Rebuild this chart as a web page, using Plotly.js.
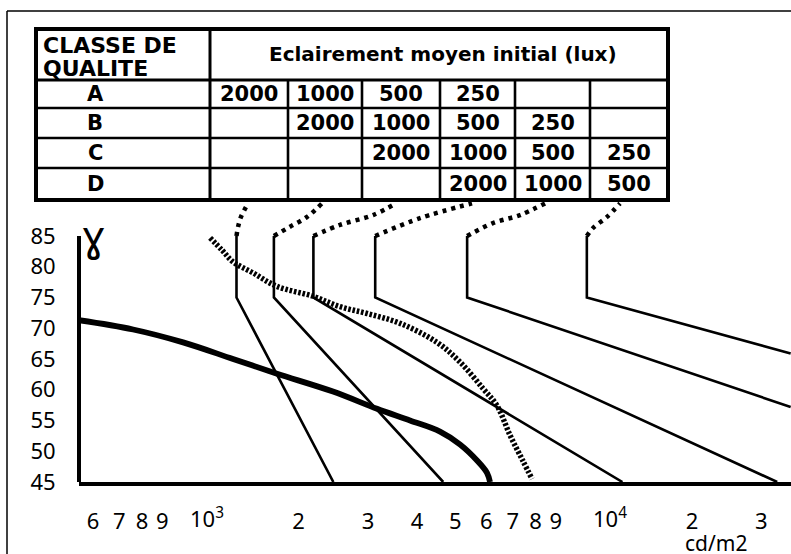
<!DOCTYPE html>
<html>
<head>
<meta charset="utf-8">
<script src="https://cdn.plot.ly/plotly-3.0.1.min.js"></script>
<style>html,body{margin:0;padding:0;background:#fff;}#chart{width:791px;height:554px;}</style>
</head>
<body>
<div id="chart"></div>
<script>
// ---------- data (luminance in cd/m2, angle gamma in degrees) ----------
const classes = ['A', 'B', 'C', 'D'];
const rowA = [2000, 1000, 500, 250, null, null];
const rowB = [null, 2000, 1000, 500, 250, null];
const rowC = [null, null, 2000, 1000, 500, 250];
const rowD = [null, null, null, 2000, 1000, 500];
const tableHeader = 'Eclairement moyen initial (lux)';
const classHeader = ['CLASSE DE', 'QUALITE'];

// luminance limit curves: vertical part 85 -> 75 deg, then straight to end
const curveVertL = [1390, 1730, 2180, 3130, 5360, 10800];
const curveEndL = [2450, 4660, 13300, 32900, 35600, 35600];
const curveEndG = [45, 45, 45, 45, 57.2, 65.9];
const curveTopG = [85, 85, 85, 85, 85, 85];
const curveKneeG = [75, 75, 75, 75, 75, 75];

// dotted lead lines from each curve top up to the table
const lead1L = [1390, 1403, 1427, 1487];   const lead1G = [85, 86.5, 88.1, 90.3];
const lead2L = [1730, 1901, 2101, 2293];   const lead2G = [85, 86.5, 88.1, 90.3];
const lead3L = [2180, 2548, 3090, 3536];   const lead3G = [85, 86.8, 88.4, 90.3];
const lead4L = [3130, 4068, 5515];         const lead4G = [85, 87.9, 90.3];
const lead5L = [5360, 6237, 7304, 8456];   const lead5G = [85, 87.1, 88.4, 90.3];
const lead6L = [10800, 11197, 12152, 13115]; const lead6G = [85, 86.3, 88.1, 90.3];

// thick curve
const thickL = [553, 759, 1017, 1362, 1762, 2445, 3164, 3837, 4574, 5142, 5680, 6021, 6128];
const thickG = [71.3, 69.8, 67.7, 65.0, 62.6, 59.7, 56.9, 55.0, 53.2, 51.1, 48.5, 46.5, 45];

// hatched dotted curve
const hashL = [1191, 1277, 1362, 1531, 1762, 2175, 2548, 2984, 3619, 4494, 5142, 5882, 6385, 6891, 7433, 7838];
const hashG = [84.7, 82.7, 80.8, 79.0, 76.8, 75.2, 73.5, 72.4, 70.8, 67.7, 64.5, 60.2, 57.4, 52.6, 48.4, 45.5];

// axis ticks
const xTickVals = [600, 700, 800, 900, 1000, 2000, 3000, 4000, 5000, 6000, 7000, 8000, 9000, 10000, 20000, 30000, 40000];
const xTickText = ['6', '7', '8', '9', '', '2', '3', '4', '5', '6', '7', '8', '9', '', '2', '3', '4'];
const decadeVals = [1000, 10000];
const decadeText = ['10<sup>3</sup>', '10<sup>4</sup>'];
const yTickVals = [45, 50, 55, 60, 65, 70, 75, 80, 85];
const xRange = [553, 35670];
const yRange = [45, 90.85];
const unitText = 'cd/m2';

// ---------- layout helpers ----------
const W = 791, H = 554, ML = 79, MR = 0, MT = 200, MB = 72;
const PW = W - ML - MR, PH = H - MT - MB;
const px = p => (p - ML) / PW;
const py = p => (H - MB - p) / PH;

const traces = [];
const leads = [[lead1L, lead1G], [lead2L, lead2G], [lead3L, lead3G], [lead4L, lead4G], [lead5L, lead5G], [lead6L, lead6G]];
leads.forEach(([lx, ly]) => {
  traces.push({x: lx, y: ly, mode: 'lines', line: {color: '#000', width: 4.5, dash: '4px,5px', shape: 'spline'}, hoverinfo: 'skip'});
});
curveVertL.forEach((v, i) => {
  traces.push({x: [v, v, curveEndL[i]], y: [curveTopG[i], curveKneeG[i], curveEndG[i]], mode: 'lines',
    line: {color: '#000', width: 2.6}, hoverinfo: 'skip'});
});
traces.push({x: hashL, y: hashG, mode: 'lines', line: {color: '#000', width: 5.5, dash: '2.6px,1.8px', shape: 'spline'}, hoverinfo: 'skip'});
traces.push({x: thickL, y: thickG, mode: 'lines', line: {color: '#000', width: 5.8, shape: 'spline'}, hoverinfo: 'skip'});

// ---------- table (shapes + annotations) ----------
const tblL = 36, tblR = 668, tblT = 29, tblB = 200, colSep = 210, hdrB = 80;
const rowLines = [108, 138, 168];
const subCols = [210, 288, 362, 440, 515, 590, 668];
const rowCenters = [94, 123, 153, 184];
const shapes = [];
const ln = (x0, y0, x1, y1, w) => shapes.push({type: 'line', xref: 'paper', yref: 'paper',
  x0: px(x0), y0: py(y0), x1: px(x1), y1: py(y1), line: {color: '#000', width: w}});
// outer frame of figure
ln(7, 11, 795, 11, 1.5);
ln(7, 11, 7, 560, 1.5);
// table
shapes.push({type: 'rect', xref: 'paper', yref: 'paper', x0: px(tblL), x1: px(tblR), y0: py(tblT), y1: py(tblB),
  line: {color: '#000', width: 4}, fillcolor: 'rgba(0,0,0,0)'});
ln(tblL, hdrB, tblR, hdrB, 3);
rowLines.forEach(y => ln(tblL, y, tblR, y, 2.6));
ln(colSep, tblT, colSep, tblB, 3);
subCols.slice(1, -1).forEach(x => ln(x, hdrB, x, tblB, 2.6));
// y axis line from 45 to 85
shapes.push({type: 'line', xref: 'paper', yref: 'y', x0: 0, x1: 0, y0: 44.6, y1: 85, line: {color: '#000', width: 4}});

const annotations = [];
const ann = (text, x, y, size, opts) => annotations.push(Object.assign({text, xref: 'paper', yref: 'paper',
  x: px(x), y: py(y), showarrow: false, xanchor: 'center', yanchor: 'middle',
  font: {family: 'DejaVu Sans', size, color: '#000', weight: 'bold'}}, opts || {}));
ann(classHeader[0], 41, 45, 22, {xanchor: 'left'});
ann(classHeader[1], 41, 68, 22, {xanchor: 'left'});
ann(tableHeader, 443, 54, 20);
const rows = [rowA, rowB, rowC, rowD];
classes.forEach((c, r) => {
  ann(c, 95, rowCenters[r], 21);
  rows[r].forEach((v, k) => {
    if (v !== null) ann(String(v), (subCols[k] + subCols[k + 1]) / 2, rowCenters[r], 21);
  });
});
// decade tick labels (typeset to the right of their tick, as in the original print)
const decadeShift = [27, 36];
decadeVals.forEach((v, i) => {
  annotations.push({text: decadeText[i], xref: 'x', yref: 'paper', x: Math.log10(v), y: py(517), xshift: decadeShift[i],
    showarrow: false, xanchor: 'center', yanchor: 'middle', font: {family: 'Noto Sans', size: 22, color: '#000'}});
});
// gamma symbol and unit
annotations.push({text: '\u0263', xref: 'paper', yref: 'paper', x: px(93), y: py(236), showarrow: false,
  xanchor: 'center', yanchor: 'middle', font: {family: 'DejaVu Sans', size: 42, color: '#000'}});
annotations.push({text: unitText, xref: 'paper', yref: 'paper', x: px(716), y: py(543), showarrow: false,
  xanchor: 'center', yanchor: 'middle', font: {family: 'Noto Sans', size: 21, color: '#000'}});

const layout = {
  width: W, height: H,
  margin: {l: ML, r: MR, t: MT, b: MB, pad: 0},
  paper_bgcolor: '#fff', plot_bgcolor: '#fff',
  showlegend: false,
  xaxis: {type: 'log', range: xRange.map(Math.log10), showgrid: false, zeroline: false,
    showline: true, linewidth: 4, linecolor: '#000', automargin: false,
    tickmode: 'array', tickvals: xTickVals, ticktext: xTickText, tickangle: 0,
    ticks: 'outside', ticklen: 17, tickcolor: 'rgba(0,0,0,0)',
    tickfont: {family: 'Noto Sans', size: 22, color: '#000'}, fixedrange: true},
  yaxis: {range: yRange, showgrid: false, zeroline: false, showline: false, automargin: false,
    tickmode: 'array', tickvals: yTickVals, ticks: 'outside', ticklen: 18, tickcolor: 'rgba(0,0,0,0)',
    tickfont: {family: 'Noto Sans', size: 22, color: '#000'}, fixedrange: true},
  shapes, annotations
};
Plotly.newPlot('chart', traces, layout, {staticPlot: true, displayModeBar: false});
</script>
</body>
</html>
